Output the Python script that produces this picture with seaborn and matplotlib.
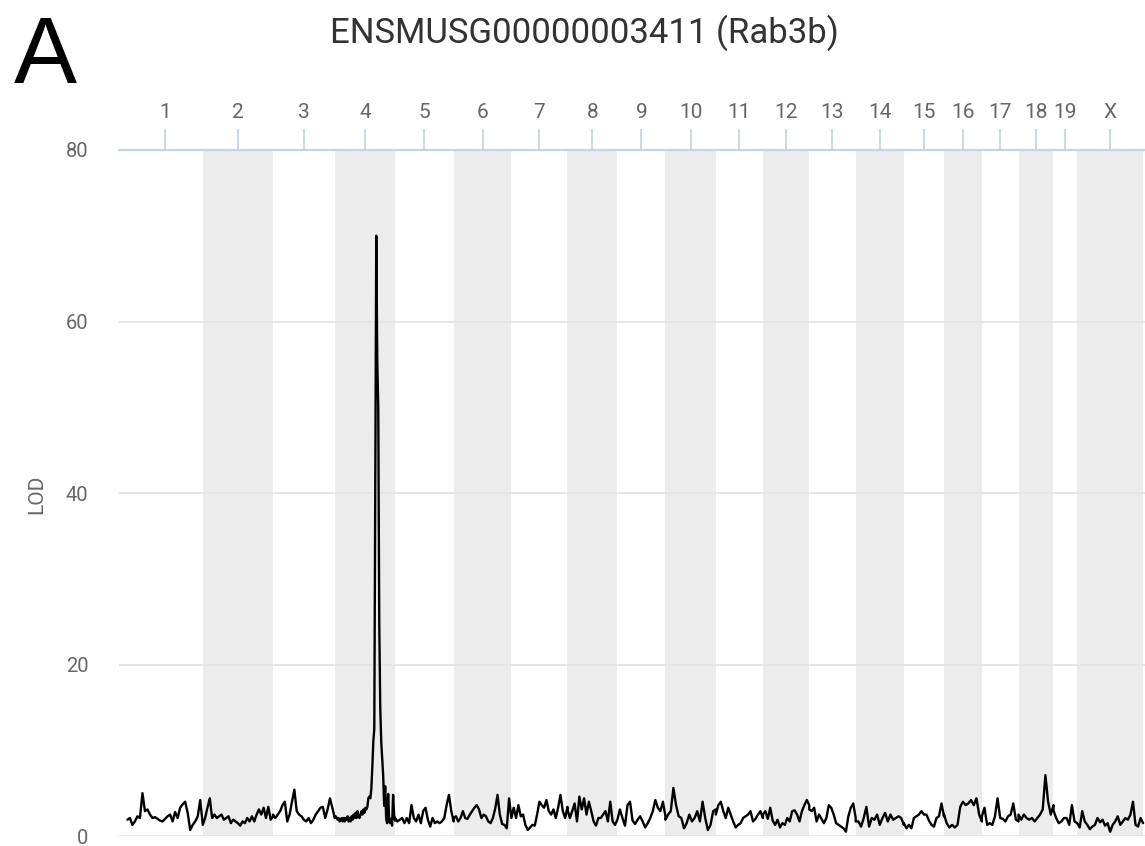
import matplotlib.pyplot as plt
import numpy as np
import pandas as pd
import seaborn as sns

# chromosome names and lengths (Mb)
chrom_names = ['1', '2', '3', '4', '5', '6', '7', '8', '9', '10',
               '11', '12', '13', '14', '15', '16', '17', '18', '19', 'X']
chrom_len = [195.47, 182.11, 160.04, 156.51, 151.83, 149.74, 145.44, 129.40, 124.60, 130.69,
             122.08, 120.13, 120.42, 124.90, 104.04, 98.21, 94.99, 90.70, 61.43, 171.03]

# LOD scores read along each chromosome (evenly spaced markers)
lod_chr1 = [1.9, 2.1, 1.3, 1.7, 2.3, 2.1, 5.0, 2.9, 3.1, 2.5, 2.1, 2.2, 2.0, 1.8, 1.7, 2.0,
            2.3, 2.5, 1.7, 2.8, 2.1, 3.3, 3.7, 4.0, 2.7, 0.7, 1.3, 1.7, 2.3, 4.2, 1.3]
lod_chr2 = [1.3, 2.1, 3.3, 4.4, 2.1, 2.5, 2.1, 2.3, 2.5, 1.9, 2.1, 2.3, 1.5, 1.9, 1.7, 1.5,
            1.2, 1.7, 1.5, 2.1, 1.7, 2.3, 1.7, 2.5, 3.1, 2.5, 3.3, 2.1, 3.4, 1.9, 2.3]
lod_chr3 = [2.5, 2.1, 2.5, 2.9, 3.6, 4.0, 1.7, 2.5, 4.0, 5.4, 2.9, 2.5, 2.3, 1.9, 1.7, 2.1,
            1.5, 1.9, 2.5, 2.9, 3.3, 3.4, 2.1, 3.1, 4.4, 3.3, 2.1]
lod_chr4 = [2.1, 2.3, 2.1, 1.9, 2.1, 1.7, 1.9, 2.1, 1.7, 2.1, 1.7, 2.1, 1.9, 2.3, 1.7, 2.1,
            1.7, 2.3, 1.9, 2.5, 2.1, 2.7, 2.1, 2.9, 2.3, 2.1, 2.5, 2.9, 2.5, 3.1, 2.7, 3.3,
            3.1, 3.4, 4.4, 4.6, 4.4, 5.5, 8.0, 11.0, 12.5, 40.0, 70.0, 55.5, 50.0, 25.0, 15.0, 11.0,
            9.0, 7.0, 3.5, 5.8, 2.0, 1.5, 4.9, 1.8, 1.5, 2.0, 1.2, 4.8, 2.5, 1.8]
lod_chr5 = [2.1, 1.7, 1.9, 2.1, 1.5, 2.1, 1.5, 3.6, 2.1, 1.7, 2.5, 1.5, 2.9, 3.3, 1.9, 1.1,
            2.1, 1.5, 1.7, 1.5, 1.7, 2.1, 3.6, 4.8, 2.9, 1.7]
lod_chr6 = [2.1, 2.3, 1.7, 2.1, 2.9, 2.1, 2.0, 2.5, 2.9, 3.3, 3.6, 3.1, 2.1, 2.5, 2.3, 1.7,
            1.5, 2.1, 3.2, 4.8, 2.5, 1.4, 1.3, 0.9, 4.4, 2.1]
lod_chr7 = [2.1, 3.3, 2.1, 3.6, 2.3, 2.5, 1.3, 0.7, 1.0, 1.3, 1.2, 2.5, 4.0, 3.6, 3.3, 4.2,
            2.9, 2.5, 3.1, 2.1, 3.3, 4.8, 2.9, 2.1, 3.4]
lod_chr8 = [3.1, 2.1, 2.9, 3.8, 1.7, 4.6, 3.1, 4.4, 2.5, 4.0, 2.9, 1.7, 1.2, 2.1, 2.1, 2.5,
            2.9, 1.7, 4.0, 1.7, 1.3, 1.9]
lod_chr9 = [1.9, 3.1, 2.1, 1.2, 3.6, 4.0, 1.8, 1.4, 1.9, 2.3, 1.7, 1.0, 1.5, 2.1, 2.9, 4.2,
            3.3, 2.9, 4.0, 2.3]
lod_chr10 = [1.9, 2.5, 2.9, 5.6, 3.6, 2.3, 2.1, 0.9, 1.5, 2.5, 1.7, 2.1, 2.9, 1.7, 4.0, 2.1,
             0.7, 1.3, 2.9, 3.1]
lod_chr11 = [2.5, 3.6, 4.0, 2.9, 2.1, 3.3, 2.5, 1.7, 1.0, 1.3, 1.5, 2.1, 2.3, 2.5, 2.9, 1.7,
             2.0, 2.5, 2.9, 2.1]
lod_chr12 = [2.5, 2.9, 2.0, 3.3, 1.8, 1.3, 1.9, 1.0, 1.5, 1.3, 2.1, 1.7, 2.9, 3.0, 2.5, 1.7,
             2.9, 3.6, 4.2, 3.6]
lod_chr13 = [3.1, 2.9, 3.3, 1.7, 2.5, 2.0, 1.5, 2.1, 3.6, 3.3, 2.5, 1.5, 1.3, 1.1, 0.9, 0.5,
             2.3, 3.3, 3.8, 2.1]
lod_chr14 = [1.7, 1.7, 1.1, 2.1, 3.4, 1.1, 2.1, 1.9, 2.5, 1.3, 2.1, 2.7, 1.7, 2.5, 1.9, 2.1,
             2.3, 2.1, 1.3]
lod_chr15 = [1.5, 0.9, 1.3, 0.9, 2.1, 2.3, 2.5, 2.9, 2.5, 2.5, 1.8, 1.3, 1.1, 2.1, 2.3, 3.8, 2.3]
lod_chr16 = [2.5, 1.5, 1.0, 1.3, 1.0, 1.3, 3.4, 4.0, 3.6, 3.8, 4.2, 3.6, 4.4, 2.5, 1.7]
lod_chr17 = [2.3, 3.3, 1.3, 1.5, 1.3, 2.3, 4.4, 2.1, 2.0, 1.7, 2.3, 2.5, 3.8, 1.9, 1.7]
lod_chr18 = [2.5, 1.9, 2.5, 2.1, 1.9, 2.1, 1.7, 2.1, 2.5, 3.1, 7.1, 4.0, 2.5, 3.6]
lod_chr19 = [3.0, 2.1, 1.5, 1.7, 2.1, 2.1, 1.3, 3.6, 1.7, 1.5]
lod_chrX = [1.5, 1.0, 2.9, 1.7, 1.3, 0.8, 1.1, 1.3, 2.1, 1.6, 1.9, 1.2, 1.5, 0.5, 1.3, 1.7,
            2.3, 1.3, 1.7, 2.1, 1.9, 2.5, 4.0, 1.3, 1.1, 2.1, 1.5]

lod_values = [lod_chr1, lod_chr2, lod_chr3, lod_chr4, lod_chr5, lod_chr6, lod_chr7, lod_chr8,
              lod_chr9, lod_chr10, lod_chr11, lod_chr12, lod_chr13, lod_chr14, lod_chr15,
              lod_chr16, lod_chr17, lod_chr18, lod_chr19, lod_chrX]

# build long table with cumulative genome position
starts = np.concatenate([[0], np.cumsum(chrom_len)[:-1]])
frames = []
for name, start, length, vals in zip(chrom_names, starts, chrom_len, lod_values):
    pos = start + np.linspace(0, length, len(vals))
    frames.append(pd.DataFrame({'chrom': name, 'pos': pos, 'lod': vals}))
df = pd.concat(frames, ignore_index=True)

sns.set_style('white')
plt.rcParams['font.family'] = ['Roboto', 'DejaVu Sans']

fig = plt.figure(figsize=(11.45, 8.46), dpi=100)
ax = fig.add_axes([0.1039, 0.0118, 0.8961, 0.8109])

# alternating chromosome bands
for i, (start, length) in enumerate(zip(starts, chrom_len)):
    if i % 2 == 1:
        ax.axvspan(start, start + length, color='#ececec', lw=0, zorder=0)

sns.lineplot(data=df, x='pos', y='lod', ax=ax, estimator=None, sort=False,
             color='black', lw=1.7, zorder=3)

ax.set_xlim(-21.8, 2638.6)
ax.set_ylim(0, 80)

# top axis with chromosome labels
mids = starts + np.array(chrom_len) / 2
ax.xaxis.tick_top()
ax.set_xticks(mids)
ax.set_xticklabels(chrom_names)
ax.tick_params(axis='x', colors='#c8d3e8', length=15, width=1.3, pad=5,
               labelcolor='#666666', labelsize=15)
ax.set_xlabel('')

ax.set_yticks([0, 20, 40, 60, 80])
ax.tick_params(axis='y', length=0, pad=22, labelcolor='#666666', labelsize=14.5)
ax.yaxis.grid(True, color='#e4e4e4', lw=1.3, zorder=1)
ax.set_axisbelow(False)
for line in ax.get_ygridlines():
    line.set_zorder(1)
ax.set_ylabel('')

for side in ['left', 'right', 'bottom']:
    ax.spines[side].set_visible(False)
ax.spines['top'].set_color('#c8d3e8')
ax.spines['top'].set_linewidth(1.6)
ax.spines['top'].set_zorder(4)

fig.text(37 / 1145, 1 - 494 / 846, 'LOD', rotation=90, ha='center', va='center',
         fontsize=15, color='#666666')
fig.text(584 / 1145, 1 - 33 / 846, 'ENSMUSG00000003411 (Rab3b)', ha='center', va='center',
         fontsize=25, color='#333333')
fig.text(14 / 1145, 1 - 83 / 846, 'A', ha='left', va='baseline', fontsize=68,
         color='black', family=['Liberation Sans', 'DejaVu Sans'])

fig.savefig('out.png', dpi=100)
